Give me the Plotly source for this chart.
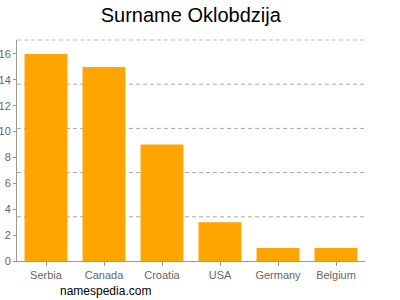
import plotly.graph_objects as go

countries = ["Serbia", "Canada", "Croatia", "USA", "Germany", "Belgium"]
counts = [16, 15, 9, 3, 1, 1]
y_ticks = [0, 2, 4, 6, 8, 10, 12, 14, 16]
grid_fracs = [0.2, 0.4, 0.6, 0.8, 1.0]

fig = go.Figure()
fig.add_trace(go.Bar(x=countries, y=counts, marker=dict(color="#FFA500", line=dict(width=0))))

shapes = []
for g in grid_fracs:
    shapes.append(dict(type="line", xref="paper", yref="paper", x0=0, x1=1, y0=g, y1=g,
                       line=dict(color="#BBBBBB" if g == 1.0 else "#AAAAAA", width=1, dash="4px,3px"),
                       layer="below"))

fig.update_layout(
    width=400, height=300,
    margin=dict(l=17, r=35, t=40, b=39, autoexpand=False),
    paper_bgcolor="white", plot_bgcolor="white",
    bargap=0.26,
    showlegend=False,
    font=dict(family="Liberation Sans, Arial, sans-serif"),
    title=dict(text="Surname Oklobdzija", x=0.477, xanchor="center", y=0.95, yanchor="middle",
               font=dict(size=20, color="#000000")),
    shapes=shapes,
    annotations=[dict(text="namespedia.com", xref="paper", yref="paper", x=0.118, y=-0.136,
                      xanchor="left", yanchor="middle", showarrow=False,
                      font=dict(size=12, color="#000000"))],
    xaxis=dict(showline=True, linecolor="#999999", linewidth=1, ticks="outside", ticklen=4,
               tickcolor="#999999", tickfont=dict(size=11, color="#666666"), showgrid=False,
               automargin=False),
    yaxis=dict(range=[0, 17.08], tickvals=y_ticks, showline=True, linecolor="#999999", linewidth=1,
               ticks="outside", ticklen=3, tickcolor="#999999", showgrid=False, zeroline=False,
               tickfont=dict(size=11, color="#666666"), automargin=False),
)

fig.write_html("out.html")
